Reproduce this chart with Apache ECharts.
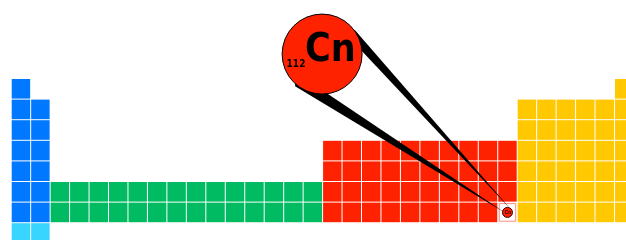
<!DOCTYPE html>
<html>
<head>
<meta charset="utf-8">
<script src="https://cdn.jsdelivr.net/npm/echarts@6/dist/echarts.min.js"></script>
<style>
  html, body { margin: 0; padding: 0; background: #fff; }
  #chart { width: 626px; height: 240px; }
</style>
</head>
<body>
<div id="chart"></div>
<script>
// periods 1..8, each block given as [firstColumn, lastColumn] per period (32-column table)
const periods = [1, 2, 3, 4, 5, 6, 7, 8]
const sBlockSpan = [[1, 1], [1, 2], [1, 2], [1, 2], [1, 2], [1, 2], [1, 2], null]
const fBlockSpan = [null, null, null, null, null, [3, 16], [3, 16], null]
const dBlockSpan = [null, null, null, [17, 26], [17, 26], [17, 26], [17, 26], null]
const pBlockSpan = [[32, 32], [27, 32], [27, 32], [27, 32], [27, 32], [27, 32], [27, 32], null]
const period8Span = [null, null, null, null, null, null, null, [1, 2]]

// highlighted element
const hlSymbol = 'Cn'
const hlNumber = 112
const hlColumn = 26
const hlPeriod = 7

const blockColors = ['#0078ff', '#00bb62', '#ff2200', '#ffc800', '#38d6ff']
const spans = [sBlockSpan, fBlockSpan, dBlockSpan, pBlockSpan, period8Span]

const cells = []
spans.forEach((span, b) => {
  periods.forEach((p, i) => {
    if (!span[i]) return
    for (let c = span[i][0]; c <= span[i][1]; c++) {
      if (c === hlColumn && p === hlPeriod) continue
      cells.push([c, p, b])
    }
  })
})

const chart = echarts.init(document.getElementById('chart'))

function renderCell(params, api) {
  const c = api.value(0)
  const p = api.value(1)
  const a = api.coord([c - 1, p - 1])
  const b = api.coord([c, p])
  return {
    type: 'rect',
    shape: { x: a[0], y: a[1], width: b[0] - a[0] - 1, height: b[1] - a[1] - 1 },
    style: { fill: blockColors[api.value(2)] }
  }
}

// callout bubble sits above the table, position in axis units
const calloutAt = [15.95, -1.21]
const bigFont = '"DejaVu Sans Condensed", "DejaVu Sans"'

function renderCallout(params, api) {
  const c = api.value(0)
  const p = api.value(1)
  const a = api.coord([c - 1, p - 1])
  const b = api.coord([c, p])
  const w = b[0] - a[0] - 1
  const h = b[1] - a[1] - 1
  const sx = a[0] + w / 2
  const sy = a[1] + h / 2
  const C = api.coord(calloutAt)
  const r = 40
  return {
    type: 'group',
    children: [
      { type: 'rect', shape: { x: a[0], y: a[1], width: w, height: h }, style: { fill: '#fff' } },
      {
        type: 'rect',
        shape: { x: a[0] + 1, y: a[1] + 1, width: w - 2, height: h - 2 },
        style: { fill: 'none', stroke: '#ff8a80', lineWidth: 1 }
      },
      {
        type: 'polygon',
        shape: { points: [[C[0] + 20, C[1] - 24], [C[0] + 32.7, C[1] - 24], [sx + 3.5, sy - 3]] },
        style: { fill: '#000' }
      },
      {
        type: 'polygon',
        shape: { points: [[C[0] - 27, C[1] + 18], [C[0] - 27, C[1] + 32.3], [sx - 2, sy + 0.5]] },
        style: { fill: '#000' }
      },
      {
        type: 'circle',
        shape: { cx: sx, cy: sy, r: 5 },
        style: { fill: '#ff2200', stroke: '#300', lineWidth: 1 }
      },
      {
        type: 'text',
        style: {
          text: hlSymbol, x: sx + 0.5, y: sy,
          font: 'bold 5px "Liberation Sans"', fill: '#300',
          align: 'center', verticalAlign: 'middle'
        }
      },
      {
        type: 'circle',
        shape: { cx: C[0], cy: C[1], r: r },
        style: { fill: '#ff2200', stroke: '#000', lineWidth: 1 }
      },
      {
        type: 'text',
        style: {
          text: hlSymbol, x: C[0] - 17, y: C[1] - 3.5,
          font: 'bold 39px ' + bigFont, fill: '#000',
          align: 'left', verticalAlign: 'middle'
        }
      },
      {
        type: 'text',
        style: {
          text: String(hlNumber), x: C[0] - 35.5, y: C[1] + 10.5,
          font: 'bold 10px ' + bigFont, fill: '#000',
          align: 'left', verticalAlign: 'middle'
        }
      }
    ]
  }
}

chart.setOption({
  animation: false,
  backgroundColor: '#fff',
  grid: { left: 11.7, top: 79, width: 603.3, height: 144.2 },
  xAxis: { type: 'value', min: 0, max: 31, show: false },
  yAxis: { type: 'value', min: 0, max: 7, inverse: true, show: false },
  series: [
    { type: 'custom', data: cells, renderItem: renderCell, silent: true },
    { type: 'custom', data: [[hlColumn, hlPeriod]], renderItem: renderCallout, silent: true, z: 3 }
  ]
})
</script>
</body>
</html>
